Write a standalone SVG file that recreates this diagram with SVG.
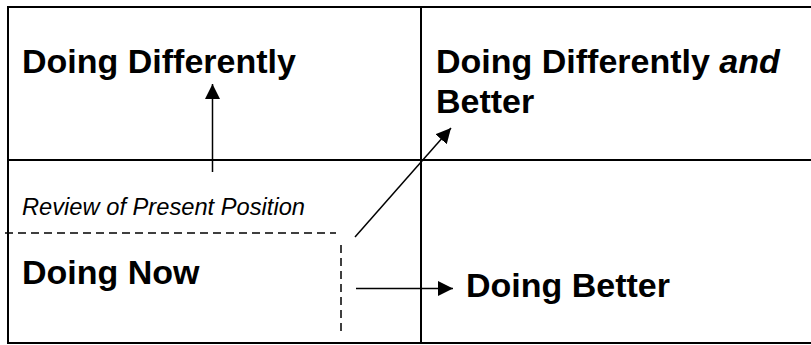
<svg xmlns="http://www.w3.org/2000/svg" width="811" height="345" viewBox="0 0 811 345">
  <style>
    .grid { stroke: #000; stroke-width: 2; fill: none; }
    .dash { stroke: #000; stroke-width: 1.5; fill: none; stroke-dasharray: 8 5; }
    .conn { stroke: #000; stroke-width: 1.5; fill: none; }
    .big { font-family: "Liberation Sans", Arial, sans-serif; font-weight: bold; font-size: 34px; fill: #000; }
    .note { font-family: "Liberation Sans", Arial, sans-serif; font-style: italic; font-size: 23px; fill: #000; }
  </style>
  <defs>
    <marker id="head" viewBox="0 0 10 10" refX="10" refY="5" markerWidth="10" markerHeight="10" markerUnits="strokeWidth" orient="auto">
      <path d="M0,0 L10,5 L0,10 z" fill="#000"/>
    </marker>
  </defs>

  <!-- quadrant grid -->
  <g id="grid">
    <line class="grid" x1="8" y1="7" x2="811" y2="7"/>
    <line class="grid" x1="8" y1="160" x2="811" y2="160"/>
    <line class="grid" x1="8" y1="343" x2="811" y2="343"/>
    <line class="grid" x1="8" y1="6" x2="8" y2="344"/>
    <line class="grid" x1="421" y1="6" x2="421" y2="344"/>
  </g>

  <g id="doing-differently">
    <text class="big" x="22" y="73">Doing Differently</text>
  </g>

  <g id="doing-differently-and-better">
    <text class="big" x="436" y="73">Doing Differently <tspan font-style="italic">and</tspan></text>
    <text class="big" x="436" y="113">Better</text>
  </g>

  <g id="doing-now">
    <text class="note" x="22" y="215" textLength="283" lengthAdjust="spacingAndGlyphs">Review of Present Position</text>
    <path class="dash" d="M5,233 H336"/>
    <path class="dash" d="M341,245 V336"/>
    <text class="big" x="22" y="284">Doing Now</text>
  </g>

  <g id="doing-better">
    <text class="big" x="466" y="297">Doing Better</text>
  </g>

  <!-- connectors -->
  <g id="connectors">
    <line class="conn" x1="212.5" y1="172" x2="212.5" y2="84" marker-end="url(#head)"/>
    <line class="conn" x1="355" y1="237" x2="451" y2="128" marker-end="url(#head)"/>
    <line class="conn" x1="356" y1="288.5" x2="453" y2="288.5" marker-end="url(#head)"/>
  </g>
</svg>
